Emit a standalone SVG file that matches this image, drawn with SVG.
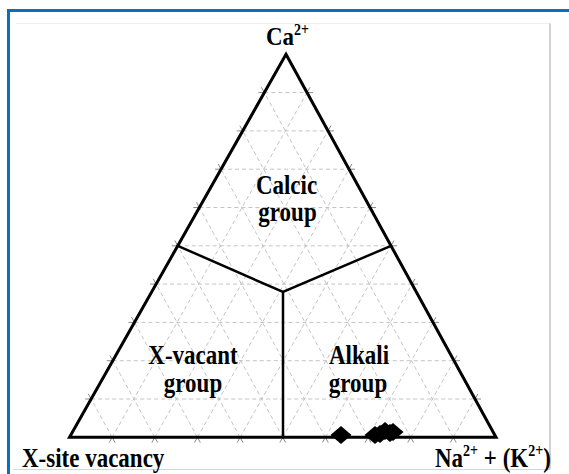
<svg xmlns="http://www.w3.org/2000/svg" width="569" height="474" viewBox="0 0 569 474">
<style>
.grid{stroke:#c4c4c4;stroke-width:1;stroke-dasharray:4 3;fill:none}
.tick{stroke:#8a8a8a;stroke-width:1;fill:none}
.edge{stroke:#000;stroke-width:3;fill:none;stroke-linejoin:miter}
.bound{stroke:#000;stroke-width:2.5;fill:none}
.lbl{font-family:"Liberation Serif","Times New Roman",serif;font-weight:bold;font-size:23px;fill:#000}
.sup{font-size:14px}
</style>
<defs>
<path id="dia" d="M-10.5 0 L0 -9 L10.5 0 L0 9 Z" fill="#000"/>
</defs>
<rect width="569" height="474" fill="#fff"/>
<g id="frame">
<line x1="16" y1="23.5" x2="550" y2="23.5" stroke="#efefef" stroke-width="1"/>
<line x1="550" y1="23.5" x2="550" y2="469.5" stroke="#b4b4b4" stroke-width="1.2"/>
<line x1="13" y1="469.5" x2="550" y2="469.5" stroke="#d6d6d6" stroke-width="1"/>
<rect x="7" y="9" width="562" height="3" fill="#0b6fc1"/>
<rect x="7" y="9" width="3" height="465" fill="#0b6fc1"/>
</g>
<g id="grid" class="grid">
<path d="M264.35 92.6H307M242.7 130.9H328M221.05 169.2H349M199.4 207.5H370M177.75 245.8H391M156.1 284.1H412M134.45 322.4H433M112.8 360.7H454M91.15 399H475"/>
<path d="M112.15 437.3L307 92.6M154.8 437.3L328 130.9M197.45 437.3L349 169.2M240.1 437.3L370 207.5M282.75 437.3L391 245.8M325.4 437.3L412 284.1M368.05 437.3L433 322.4M410.7 437.3L454 360.7M453.35 437.3L475 399"/>
<path d="M112.15 437.3L91.15 399M154.8 437.3L112.8 360.7M197.45 437.3L134.45 322.4M240.1 437.3L156.1 284.1M282.75 437.3L177.75 245.8M325.4 437.3L199.4 207.5M368.05 437.3L221.05 169.2M410.7 437.3L242.7 130.9M453.35 437.3L264.35 92.6"/>
</g>
<g id="ticks" class="tick">
<path d="M112.15 437.3l-2.95 5.22M112.15 437.3l2.88 5.26M154.8 437.3l-2.95 5.22M154.8 437.3l2.88 5.26M197.45 437.3l-2.95 5.22M197.45 437.3l2.88 5.26M240.1 437.3l-2.95 5.22M240.1 437.3l2.88 5.26M282.75 437.3l-2.95 5.22M282.75 437.3l2.88 5.26M325.4 437.3l-2.95 5.22M325.4 437.3l2.88 5.26M368.05 437.3l-2.95 5.22M368.05 437.3l2.88 5.26M410.7 437.3l-2.95 5.22M410.7 437.3l2.88 5.26M453.35 437.3l-2.95 5.22M453.35 437.3l2.88 5.26"/>
<path d="M264.35 92.6h-6M264.35 92.6l-2.88 -5.26M242.7 130.9h-6M242.7 130.9l-2.88 -5.26M221.05 169.2h-6M221.05 169.2l-2.88 -5.26M199.4 207.5h-6M199.4 207.5l-2.88 -5.26M177.75 245.8h-6M177.75 245.8l-2.88 -5.26M156.1 284.1h-6M156.1 284.1l-2.88 -5.26M134.45 322.4h-6M134.45 322.4l-2.88 -5.26M112.8 360.7h-6M112.8 360.7l-2.88 -5.26M91.15 399h-6M91.15 399l-2.88 -5.26"/>
<path d="M307 92.6h6M307 92.6l2.95 -5.22M328 130.9h6M328 130.9l2.95 -5.22M349 169.2h6M349 169.2l2.95 -5.22M370 207.5h6M370 207.5l2.95 -5.22M391 245.8h6M391 245.8l2.95 -5.22M412 284.1h6M412 284.1l2.95 -5.22M433 322.4h6M433 322.4l2.95 -5.22M454 360.7h6M454 360.7l2.95 -5.22M475 399h6M475 399l2.95 -5.22"/>
</g>
<g id="triangle">
<path class="edge" d="M286 54.3L496 437.3H69.5Z"/>
</g>
<g id="boundaries" class="bound">
<path d="M177.75 245.8L283 292L391 245.8M283 292V437.3"/>
</g>
<g id="data-points">
<use href="#dia" x="341" y="435"/>
<use href="#dia" x="375" y="435"/>
<use href="#dia" x="380" y="434"/>
<use href="#dia" x="385" y="431"/>
<use href="#dia" x="390" y="433"/>
<use href="#dia" x="393" y="432"/>
</g>
<g id="label-ca" transform="translate(266 45) scale(1 1.12)">
<text class="lbl" x="0" y="0">Ca<tspan class="sup" dy="-9">2+</tspan></text>
</g>
<g id="label-vacancy" transform="translate(22 466.5) scale(1 1.15)">
<text class="lbl" x="0" y="0">X-site vacancy</text>
</g>
<g id="label-na" transform="translate(435 466.5) scale(1 1.15)">
<text class="lbl" x="0" y="0">Na<tspan class="sup" dy="-9">2+</tspan><tspan dy="9"> + (K</tspan><tspan class="sup" dy="-9">2+</tspan><tspan dy="9">)</tspan></text>
</g>
<g id="calcic-group">
<text class="lbl" transform="translate(286.5 194) scale(1 1.15)" text-anchor="middle">Calcic</text>
<text class="lbl" transform="translate(287.5 221) scale(1 1.15)" text-anchor="middle">group</text>
</g>
<g id="xvacant-group">
<text class="lbl" transform="translate(193 364) scale(1 1.15)" text-anchor="middle">X-vacant</text>
<text class="lbl" transform="translate(193 392) scale(1 1.15)" text-anchor="middle">group</text>
</g>
<g id="alkali-group">
<text class="lbl" transform="translate(359 364) scale(1 1.15)" text-anchor="middle">Alkali</text>
<text class="lbl" transform="translate(358 392) scale(1 1.15)" text-anchor="middle">group</text>
</g>
</svg>
